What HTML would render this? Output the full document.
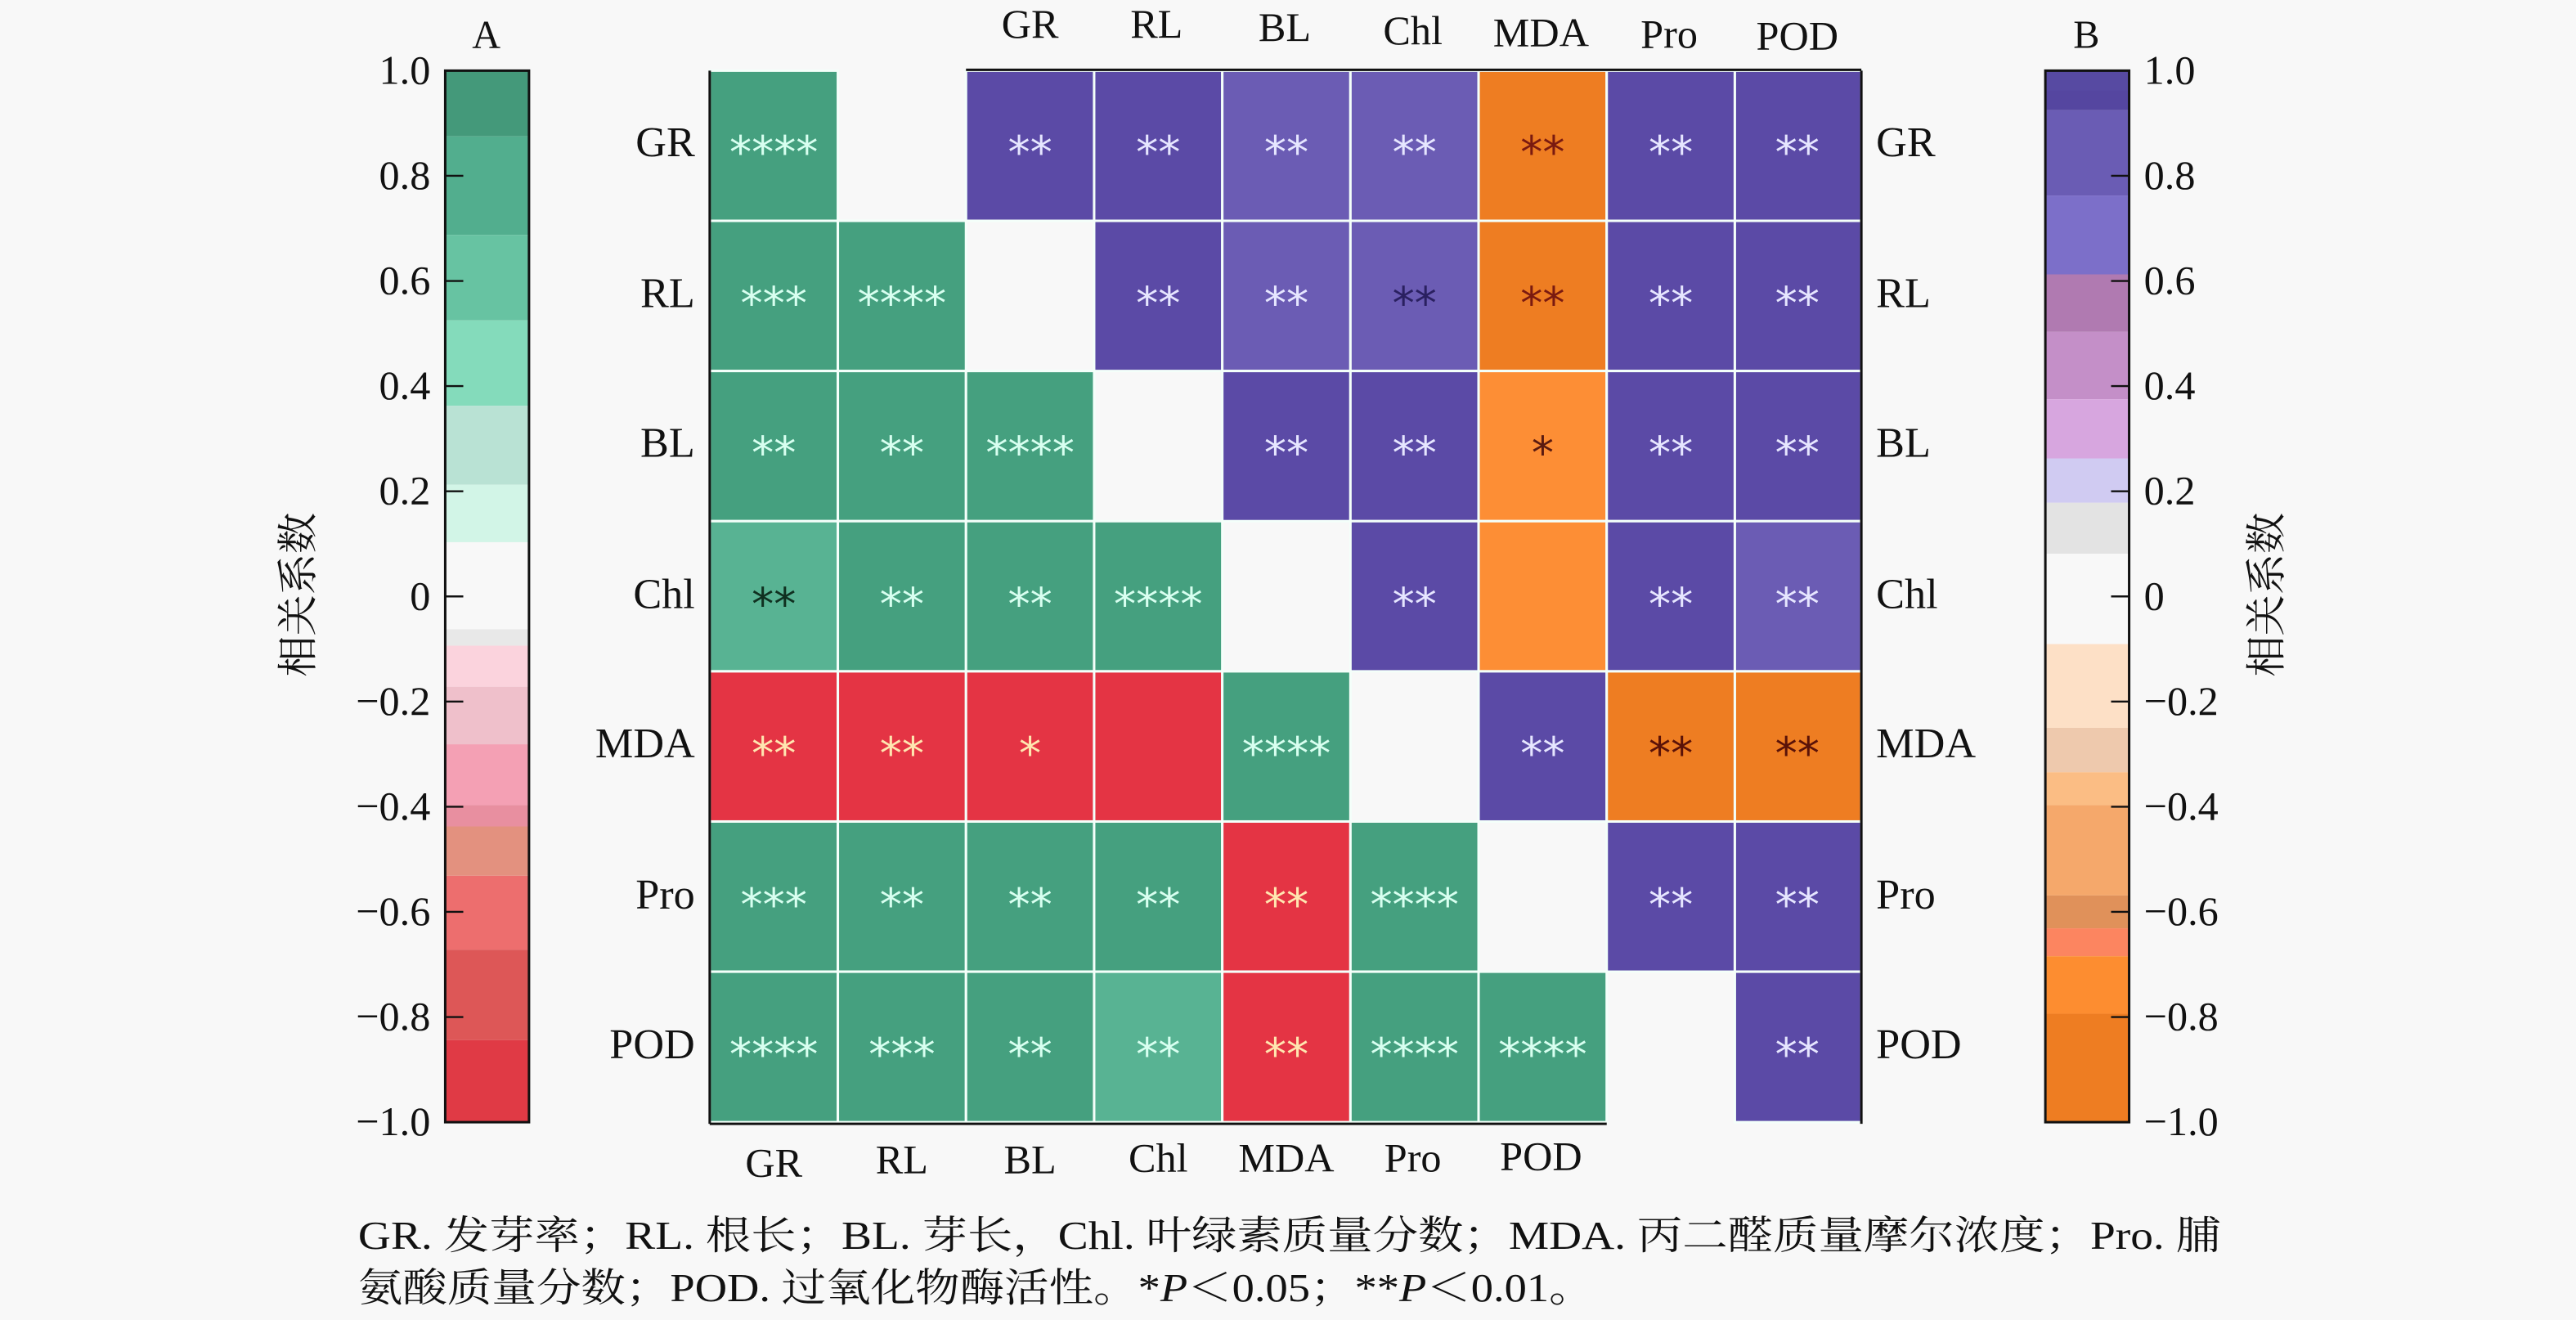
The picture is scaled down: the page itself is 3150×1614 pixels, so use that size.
<!DOCTYPE html>
<html><head><meta charset="utf-8"><style>
html,body{margin:0;padding:0;background:#f8f8f8}
svg{display:block}
text{font-family:"Liberation Serif","Noto Serif CJK SC",serif}
</style></head><body>
<svg width="3150" height="1614" viewBox="0 0 1568 803.4" preserveAspectRatio="none" xmlns="http://www.w3.org/2000/svg" fill="#111">
<rect width="1568" height="804" fill="#f8f8f8"/>
<!-- Left colorbar A -->
<g>
<rect x="271" y="43" width="51" height="40" fill="#44997a"/>
<rect x="271" y="83" width="51" height="60" fill="#52ae8e"/>
<rect x="271" y="143" width="51" height="52" fill="#67c3a2"/>
<rect x="271" y="195" width="51" height="52" fill="#84dbbb"/>
<rect x="271" y="247" width="51" height="48" fill="#b9e2d4"/>
<rect x="271" y="295" width="51" height="35" fill="#d2f5e7"/>
<rect x="271" y="330" width="51" height="53" fill="#f8f8f8"/>
<rect x="271" y="383" width="51" height="10" fill="#e8e8e8"/>
<rect x="271" y="393" width="51" height="25" fill="#fbd3dd"/>
<rect x="271" y="418" width="51" height="35" fill="#efc0cb"/>
<rect x="271" y="453" width="51" height="37" fill="#f4a0b4"/>
<rect x="271" y="490" width="51" height="13" fill="#e88fa0"/>
<rect x="271" y="503" width="51" height="30" fill="#e3917f"/>
<rect x="271" y="533" width="51" height="45" fill="#ed6e6e"/>
<rect x="271" y="578" width="51" height="55" fill="#dd5757"/>
<rect x="271" y="633" width="51" height="50" fill="#e03a45"/>
<rect x="271" y="43" width="51" height="640" fill="none" stroke="#111" stroke-width="1.5"/>
<g stroke="#111" stroke-width="1.2">
<line x1="271" y1="107" x2="282" y2="107"/><line x1="271" y1="171" x2="282" y2="171"/><line x1="271" y1="235" x2="282" y2="235"/><line x1="271" y1="299" x2="282" y2="299"/><line x1="271" y1="363" x2="282" y2="363"/><line x1="271" y1="427" x2="282" y2="427"/><line x1="271" y1="491" x2="282" y2="491"/><line x1="271" y1="555" x2="282" y2="555"/><line x1="271" y1="619" x2="282" y2="619"/>
</g>
<g font-size="25" text-anchor="end">
<text x="262" y="51">1.0</text><text x="262" y="115">0.8</text><text x="262" y="179">0.6</text><text x="262" y="243">0.4</text><text x="262" y="307">0.2</text><text x="262" y="371">0</text><text x="262" y="435">−0.2</text><text x="262" y="499">−0.4</text><text x="262" y="563">−0.6</text><text x="262" y="627">−0.8</text><text x="262" y="691">−1.0</text>
</g>
<text x="296" y="29" font-size="24" text-anchor="middle">A</text>
<text transform="translate(190,362) rotate(-90)" font-size="25" text-anchor="middle">相关系数</text>
</g>
<!-- Right colorbar B -->
<g>
<rect x="1245" y="43" width="51" height="12" fill="#574aa2"/>
<rect x="1245" y="55" width="51" height="12" fill="#5546a0"/>
<rect x="1245" y="67" width="51" height="52" fill="#6a5cb4"/>
<rect x="1245" y="119" width="51" height="48" fill="#7c6fc9"/>
<rect x="1245" y="167" width="51" height="35" fill="#b07ab1"/>
<rect x="1245" y="202" width="51" height="41" fill="#c48fc8"/>
<rect x="1245" y="243" width="51" height="36" fill="#d7a6df"/>
<rect x="1245" y="279" width="51" height="27" fill="#d0cbf2"/>
<rect x="1245" y="306" width="51" height="31" fill="#e3e3e3"/>
<rect x="1245" y="337" width="51" height="55" fill="#f8f8f8"/>
<rect x="1245" y="392" width="51" height="51" fill="#fde0c6"/>
<rect x="1245" y="443" width="51" height="27" fill="#eec9ad"/>
<rect x="1245" y="470" width="51" height="20" fill="#fbbd84"/>
<rect x="1245" y="490" width="51" height="55" fill="#f5a86b"/>
<rect x="1245" y="545" width="51" height="20" fill="#e0915a"/>
<rect x="1245" y="565" width="51" height="17" fill="#fc8560"/>
<rect x="1245" y="582" width="51" height="35" fill="#fd8d30"/>
<rect x="1245" y="617" width="51" height="66" fill="#ee7d22"/>
<rect x="1245" y="43" width="51" height="640" fill="none" stroke="#111" stroke-width="1.5"/>
<g stroke="#111" stroke-width="1.2">
<line x1="1285" y1="107" x2="1296" y2="107"/><line x1="1285" y1="171" x2="1296" y2="171"/><line x1="1285" y1="235" x2="1296" y2="235"/><line x1="1285" y1="299" x2="1296" y2="299"/><line x1="1285" y1="363" x2="1296" y2="363"/><line x1="1285" y1="427" x2="1296" y2="427"/><line x1="1285" y1="491" x2="1296" y2="491"/><line x1="1285" y1="555" x2="1296" y2="555"/><line x1="1285" y1="619" x2="1296" y2="619"/>
</g>
<g font-size="25">
<text x="1305" y="51">1.0</text><text x="1305" y="115">0.8</text><text x="1305" y="179">0.6</text><text x="1305" y="243">0.4</text><text x="1305" y="307">0.2</text><text x="1305" y="371">0</text><text x="1305" y="435">−0.2</text><text x="1305" y="499">−0.4</text><text x="1305" y="563">−0.6</text><text x="1305" y="627">−0.8</text><text x="1305" y="691">−1.0</text>
</g>
<text x="1270" y="29" font-size="24" text-anchor="middle">B</text>
<text transform="translate(1388,362) rotate(-90)" font-size="25" text-anchor="middle">相关系数</text>
</g>
<!-- Matrix cells -->
<g stroke="#f4fffa" stroke-width="1.5">
<rect x="432" y="43" width="78" height="91.4" fill="#45a07f"/>
<rect x="588" y="43" width="78" height="91.4" fill="#5b4aa6"/>
<rect x="666" y="43" width="78" height="91.4" fill="#5b4aa6"/>
<rect x="744" y="43" width="78" height="91.4" fill="#6b5cb4"/>
<rect x="822" y="43" width="78" height="91.4" fill="#6b5cb4"/>
<rect x="900" y="43" width="78" height="91.4" fill="#ee7d22"/>
<rect x="978" y="43" width="78" height="91.4" fill="#5b4aa6"/>
<rect x="1056" y="43" width="77" height="91.4" fill="#5b4aa6"/>
<rect x="432" y="134.4" width="78" height="91.4" fill="#45a07f"/>
<rect x="510" y="134.4" width="78" height="91.4" fill="#45a07f"/>
<rect x="666" y="134.4" width="78" height="91.4" fill="#5b4aa6"/>
<rect x="744" y="134.4" width="78" height="91.4" fill="#6b5cb4"/>
<rect x="822" y="134.4" width="78" height="91.4" fill="#6b5cb4"/>
<rect x="900" y="134.4" width="78" height="91.4" fill="#ee7d22"/>
<rect x="978" y="134.4" width="78" height="91.4" fill="#5b4aa6"/>
<rect x="1056" y="134.4" width="77" height="91.4" fill="#5b4aa6"/>
<rect x="432" y="225.8" width="78" height="91.4" fill="#45a07f"/>
<rect x="510" y="225.8" width="78" height="91.4" fill="#45a07f"/>
<rect x="588" y="225.8" width="78" height="91.4" fill="#45a07f"/>
<rect x="744" y="225.8" width="78" height="91.4" fill="#5b4aa6"/>
<rect x="822" y="225.8" width="78" height="91.4" fill="#5b4aa6"/>
<rect x="900" y="225.8" width="78" height="91.4" fill="#fd8e35"/>
<rect x="978" y="225.8" width="78" height="91.4" fill="#5b4aa6"/>
<rect x="1056" y="225.8" width="77" height="91.4" fill="#5b4aa6"/>
<rect x="432" y="317.2" width="78" height="91.4" fill="#58b393"/>
<rect x="510" y="317.2" width="78" height="91.4" fill="#45a07f"/>
<rect x="588" y="317.2" width="78" height="91.4" fill="#45a07f"/>
<rect x="666" y="317.2" width="78" height="91.4" fill="#45a07f"/>
<rect x="822" y="317.2" width="78" height="91.4" fill="#5b4aa6"/>
<rect x="900" y="317.2" width="78" height="91.4" fill="#fd8e35"/>
<rect x="978" y="317.2" width="78" height="91.4" fill="#5b4aa6"/>
<rect x="1056" y="317.2" width="77" height="91.4" fill="#6b5cb4"/>
<rect x="432" y="408.6" width="78" height="91.4" fill="#e43444"/>
<rect x="510" y="408.6" width="78" height="91.4" fill="#e43444"/>
<rect x="588" y="408.6" width="78" height="91.4" fill="#e43444"/>
<rect x="666" y="408.6" width="78" height="91.4" fill="#e43444"/>
<rect x="744" y="408.6" width="78" height="91.4" fill="#45a07f"/>
<rect x="900" y="408.6" width="78" height="91.4" fill="#5b4aa6"/>
<rect x="978" y="408.6" width="78" height="91.4" fill="#ee7d22"/>
<rect x="1056" y="408.6" width="77" height="91.4" fill="#ee7d22"/>
<rect x="432" y="500" width="78" height="91.4" fill="#45a07f"/>
<rect x="510" y="500" width="78" height="91.4" fill="#45a07f"/>
<rect x="588" y="500" width="78" height="91.4" fill="#45a07f"/>
<rect x="666" y="500" width="78" height="91.4" fill="#45a07f"/>
<rect x="744" y="500" width="78" height="91.4" fill="#e43444"/>
<rect x="822" y="500" width="78" height="91.4" fill="#45a07f"/>
<rect x="978" y="500" width="78" height="91.4" fill="#5b4aa6"/>
<rect x="1056" y="500" width="77" height="91.4" fill="#5b4aa6"/>
<rect x="432" y="591.4" width="78" height="91.6" fill="#45a07f"/>
<rect x="510" y="591.4" width="78" height="91.6" fill="#45a07f"/>
<rect x="588" y="591.4" width="78" height="91.6" fill="#45a07f"/>
<rect x="666" y="591.4" width="78" height="91.6" fill="#58b393"/>
<rect x="744" y="591.4" width="78" height="91.6" fill="#e43444"/>
<rect x="822" y="591.4" width="78" height="91.6" fill="#45a07f"/>
<rect x="900" y="591.4" width="78" height="91.6" fill="#45a07f"/>
<rect x="1056" y="591.4" width="77" height="91.6" fill="#5b4aa6"/>
</g>
<g stroke="#111" stroke-width="1.5">
<line x1="432" y1="43" x2="432" y2="684"/>
<line x1="432" y1="684" x2="978" y2="684"/>
<line x1="588" y1="42.5" x2="1133" y2="42.5"/>
<line x1="1133" y1="43" x2="1133" y2="684"/>
</g>
<!-- stars -->
<g font-size="27" text-anchor="middle" style="font-family:'DejaVu Sans',sans-serif">
<text style="font-family:'DejaVu Sans',sans-serif" x="471" y="102" fill="#d8fff0">****</text>
<text x="627" y="102" fill="#e6e6ff" style="font-family:'DejaVu Sans',sans-serif">**</text><text x="705" y="102" fill="#e6e6ff" style="font-family:'DejaVu Sans',sans-serif">**</text><text x="783" y="102" fill="#e6e6ff" style="font-family:'DejaVu Sans',sans-serif">**</text><text x="861" y="102" fill="#e6e6ff" style="font-family:'DejaVu Sans',sans-serif">**</text><text x="939" y="102" fill="#7a1a10" style="font-family:'DejaVu Sans',sans-serif">**</text><text x="1017" y="102" fill="#e6e6ff" style="font-family:'DejaVu Sans',sans-serif">**</text><text x="1094" y="102" fill="#e6e6ff" style="font-family:'DejaVu Sans',sans-serif">**</text>
<text x="471" y="194" fill="#d8fff0" style="font-family:'DejaVu Sans',sans-serif">***</text><text x="549" y="194" fill="#d8fff0" style="font-family:'DejaVu Sans',sans-serif">****</text>
<text x="705" y="194" fill="#e6e6ff" style="font-family:'DejaVu Sans',sans-serif">**</text><text x="783" y="194" fill="#e6e6ff" style="font-family:'DejaVu Sans',sans-serif">**</text><text x="861" y="194" fill="#2a2060" style="font-family:'DejaVu Sans',sans-serif">**</text><text x="939" y="194" fill="#7a1a10" style="font-family:'DejaVu Sans',sans-serif">**</text><text x="1017" y="194" fill="#e6e6ff" style="font-family:'DejaVu Sans',sans-serif">**</text><text x="1094" y="194" fill="#e6e6ff" style="font-family:'DejaVu Sans',sans-serif">**</text>
<text x="471" y="285" fill="#d8fff0" style="font-family:'DejaVu Sans',sans-serif">**</text><text x="549" y="285" fill="#d8fff0" style="font-family:'DejaVu Sans',sans-serif">**</text><text x="627" y="285" fill="#d8fff0" style="font-family:'DejaVu Sans',sans-serif">****</text>
<text x="783" y="285" fill="#e6e6ff" style="font-family:'DejaVu Sans',sans-serif">**</text><text x="861" y="285" fill="#e6e6ff" style="font-family:'DejaVu Sans',sans-serif">**</text><text x="939" y="285" fill="#5a1a10" style="font-family:'DejaVu Sans',sans-serif">*</text><text x="1017" y="285" fill="#e6e6ff" style="font-family:'DejaVu Sans',sans-serif">**</text><text x="1094" y="285" fill="#e6e6ff" style="font-family:'DejaVu Sans',sans-serif">**</text>
<text x="471" y="377" fill="#103020" style="font-family:'DejaVu Sans',sans-serif">**</text><text x="549" y="377" fill="#d8fff0" style="font-family:'DejaVu Sans',sans-serif">**</text><text x="627" y="377" fill="#d8fff0" style="font-family:'DejaVu Sans',sans-serif">**</text><text x="705" y="377" fill="#d8fff0" style="font-family:'DejaVu Sans',sans-serif">****</text>
<text x="861" y="377" fill="#e6e6ff" style="font-family:'DejaVu Sans',sans-serif">**</text><text x="1017" y="377" fill="#e6e6ff" style="font-family:'DejaVu Sans',sans-serif">**</text><text x="1094" y="377" fill="#e6e6ff" style="font-family:'DejaVu Sans',sans-serif">**</text>
<text x="471" y="468" fill="#ffe6b0" style="font-family:'DejaVu Sans',sans-serif">**</text><text x="549" y="468" fill="#ffe6b0" style="font-family:'DejaVu Sans',sans-serif">**</text><text x="627" y="468" fill="#ffe6b0" style="font-family:'DejaVu Sans',sans-serif">*</text><text x="783" y="468" fill="#d8fff0" style="font-family:'DejaVu Sans',sans-serif">****</text>
<text x="939" y="468" fill="#e6e6ff" style="font-family:'DejaVu Sans',sans-serif">**</text><text x="1017" y="468" fill="#5a1208" style="font-family:'DejaVu Sans',sans-serif">**</text><text x="1094" y="468" fill="#5a1208" style="font-family:'DejaVu Sans',sans-serif">**</text>
<text x="471" y="560" fill="#d8fff0" style="font-family:'DejaVu Sans',sans-serif">***</text><text x="549" y="560" fill="#d8fff0" style="font-family:'DejaVu Sans',sans-serif">**</text><text x="627" y="560" fill="#d8fff0" style="font-family:'DejaVu Sans',sans-serif">**</text><text x="705" y="560" fill="#d8fff0" style="font-family:'DejaVu Sans',sans-serif">**</text><text x="783" y="560" fill="#ffe6b0" style="font-family:'DejaVu Sans',sans-serif">**</text><text x="861" y="560" fill="#d8fff0" style="font-family:'DejaVu Sans',sans-serif">****</text>
<text x="1017" y="560" fill="#e6e6ff" style="font-family:'DejaVu Sans',sans-serif">**</text><text x="1094" y="560" fill="#e6e6ff" style="font-family:'DejaVu Sans',sans-serif">**</text>
<text x="471" y="651" fill="#d8fff0" style="font-family:'DejaVu Sans',sans-serif">****</text><text x="549" y="651" fill="#d8fff0" style="font-family:'DejaVu Sans',sans-serif">***</text><text x="627" y="651" fill="#d8fff0" style="font-family:'DejaVu Sans',sans-serif">**</text><text x="705" y="651" fill="#d8fff0" style="font-family:'DejaVu Sans',sans-serif">**</text><text x="783" y="651" fill="#ffe6b0" style="font-family:'DejaVu Sans',sans-serif">**</text><text x="861" y="651" fill="#d8fff0" style="font-family:'DejaVu Sans',sans-serif">****</text><text x="939" y="651" fill="#d8fff0" style="font-family:'DejaVu Sans',sans-serif">****</text>
<text x="1094" y="651" fill="#e6e6ff" style="font-family:'DejaVu Sans',sans-serif">**</text>
</g>
<g font-size="26" text-anchor="end">
<text x="423" y="95">GR</text><text x="423" y="187">RL</text><text x="423" y="278">BL</text><text x="423" y="370">Chl</text><text x="423" y="461">MDA</text><text x="423" y="553">Pro</text><text x="423" y="644">POD</text>
</g>
<g font-size="26">
<text x="1142" y="95">GR</text><text x="1142" y="187">RL</text><text x="1142" y="278">BL</text><text x="1142" y="370">Chl</text><text x="1142" y="461">MDA</text><text x="1142" y="553">Pro</text><text x="1142" y="644">POD</text>
</g>
<g font-size="25" text-anchor="middle">
<text x="471" y="716">GR</text><text x="549" y="714">RL</text><text x="627" y="714">BL</text><text x="705" y="713">Chl</text><text x="783" y="713">MDA</text><text x="860" y="713">Pro</text><text x="938" y="712">POD</text>
</g>
<g font-size="25" text-anchor="middle">
<text x="627" y="23">GR</text><text x="704" y="23">RL</text><text x="782" y="25">BL</text><text x="860" y="27">Chl</text><text x="938" y="28">MDA</text><text x="1016" y="29">Pro</text><text x="1094" y="30">POD</text>
</g>
<g font-size="24">
<text x="218" y="760" textLength="1134" lengthAdjust="spacingAndGlyphs">GR. 发芽率；RL. 根长；BL. 芽长，Chl. 叶绿素质量分数；MDA. 丙二醛质量摩尔浓度；Pro. 脯</text>
<text x="218" y="792" textLength="752" lengthAdjust="spacingAndGlyphs">氨酸质量分数；POD. 过氧化物酶活性。*<tspan font-style="italic">P</tspan>＜0.05；**<tspan font-style="italic">P</tspan>＜0.01。</text>
</g>
</svg>
</body></html>
